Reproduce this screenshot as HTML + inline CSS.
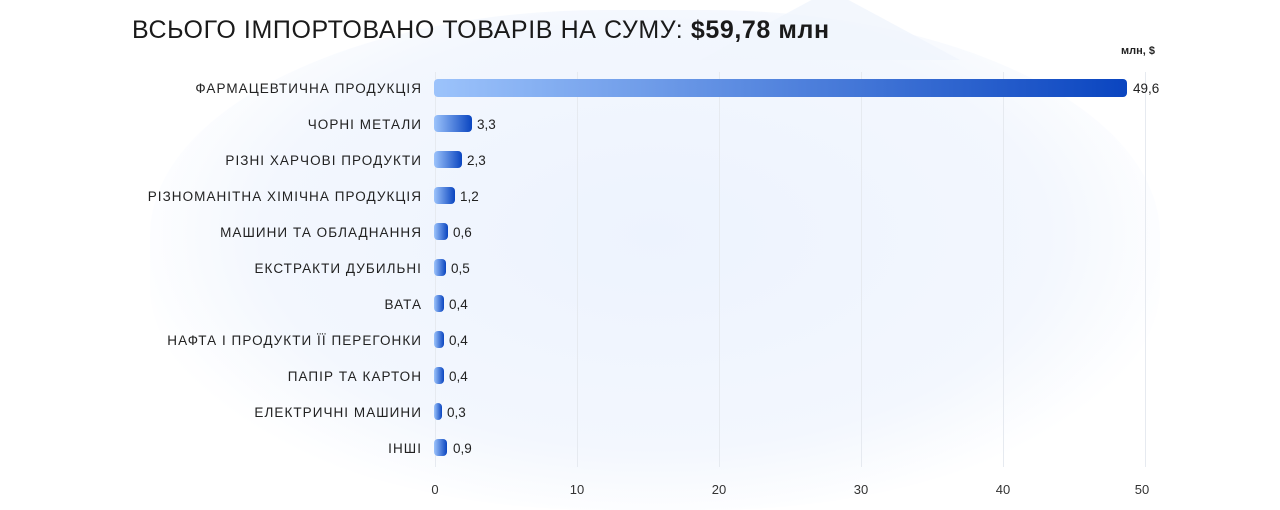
<!DOCTYPE html>
<html><head><meta charset="utf-8"><style>
body{margin:0;width:1280px;height:500px;overflow:hidden;background:#fff;font-family:"Liberation Sans",sans-serif;position:relative}
.bg{position:absolute;left:150px;top:10px;width:1010px;height:500px;border-radius:45%;background:radial-gradient(ellipse at 50% 45%,#edf3fe 0%,#f3f7fe 55%,rgba(255,255,255,0) 75%)}
.tri{position:absolute;left:700px;top:-10px;width:0;height:0;border-left:130px solid transparent;border-right:130px solid transparent;border-bottom:70px solid #f0f5fd;opacity:.8}
.title{position:absolute;left:132px;top:16px;font-size:25px;color:#1a1a1a;letter-spacing:.6px}
.title b{font-weight:bold}
.unit{position:absolute;left:1121px;top:45px;font-size:11px;font-weight:bold;color:#222}
.grid{position:absolute;top:72px;height:395px;width:1px;background:#e6eaf0}
.lab{position:absolute;right:858px;font-size:13.5px;color:#222;letter-spacing:1.05px;white-space:nowrap}
.bar{position:absolute;left:434px;height:17px;border-radius:4px;background:linear-gradient(90deg,#9cc3fb,#0a45c0)}
.val{position:absolute;font-size:13.5px;color:#222}
.tick{position:absolute;top:482px;font-size:13px;color:#333;transform:translateX(-50%)}
</style></head><body>
<div class="bg"></div><div class="tri"></div>
<div class="title">ВСЬОГО ІМПОРТОВАНО ТОВАРІВ НА СУМУ: <b>$59,78 млн</b></div>
<div class="unit">млн, $</div>
<div class="grid" style="left:435px"></div><div class="grid" style="left:577px"></div><div class="grid" style="left:719px"></div><div class="grid" style="left:861px"></div><div class="grid" style="left:1003px"></div><div class="grid" style="left:1145px"></div>
<div class="tick" style="left:435px">0</div><div class="tick" style="left:577px">10</div><div class="tick" style="left:719px">20</div><div class="tick" style="left:861px">30</div><div class="tick" style="left:1003px">40</div><div class="tick" style="left:1142px">50</div>

<div class="lab" style="top:81px">ФАРМАЦЕВТИЧНА ПРОДУКЦІЯ</div><div class="bar" style="top:79px;width:693px;height:18px"></div><div class="val" style="left:1133px;top:81px">49,6</div>
<div class="lab" style="top:117px">ЧОРНІ МЕТАЛИ</div><div class="bar" style="top:115px;width:38px"></div><div class="val" style="left:477px;top:117px">3,3</div>
<div class="lab" style="top:153px">РІЗНІ ХАРЧОВІ ПРОДУКТИ</div><div class="bar" style="top:151px;width:28px"></div><div class="val" style="left:467px;top:153px">2,3</div>
<div class="lab" style="top:189px">РІЗНОМАНІТНА ХІМІЧНА ПРОДУКЦІЯ</div><div class="bar" style="top:187px;width:21px"></div><div class="val" style="left:460px;top:189px">1,2</div>
<div class="lab" style="top:225px">МАШИНИ ТА ОБЛАДНАННЯ</div><div class="bar" style="top:223px;width:14px"></div><div class="val" style="left:453px;top:225px">0,6</div>
<div class="lab" style="top:261px">ЕКСТРАКТИ ДУБИЛЬНІ</div><div class="bar" style="top:259px;width:12px"></div><div class="val" style="left:451px;top:261px">0,5</div>
<div class="lab" style="top:297px">ВАТА</div><div class="bar" style="top:295px;width:10px"></div><div class="val" style="left:449px;top:297px">0,4</div>
<div class="lab" style="top:333px">НАФТА І ПРОДУКТИ ЇЇ ПЕРЕГОНКИ</div><div class="bar" style="top:331px;width:10px"></div><div class="val" style="left:449px;top:333px">0,4</div>
<div class="lab" style="top:369px">ПАПІР ТА КАРТОН</div><div class="bar" style="top:367px;width:10px"></div><div class="val" style="left:449px;top:369px">0,4</div>
<div class="lab" style="top:405px">ЕЛЕКТРИЧНІ МАШИНИ</div><div class="bar" style="top:403px;width:8px"></div><div class="val" style="left:447px;top:405px">0,3</div>
<div class="lab" style="top:441px">ІНШІ</div><div class="bar" style="top:439px;width:13px"></div><div class="val" style="left:453px;top:441px">0,9</div>
</body></html>
